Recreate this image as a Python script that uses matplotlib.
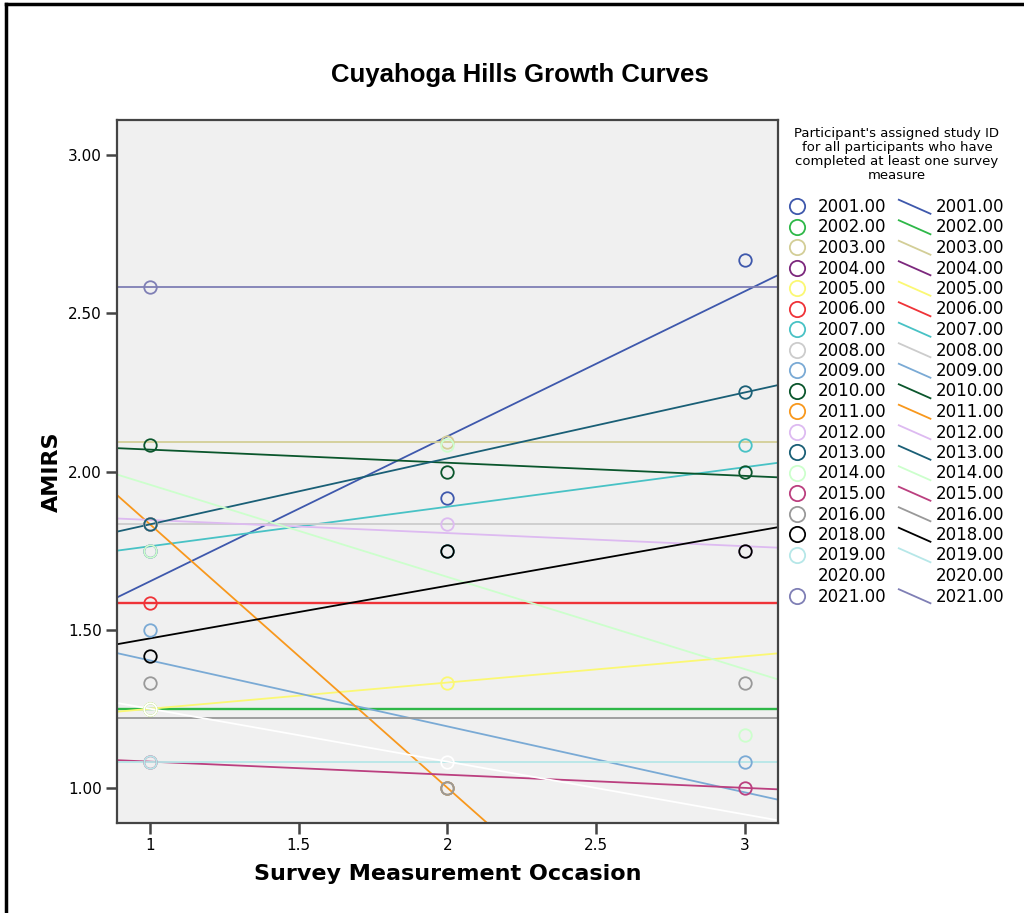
import numpy as np
import matplotlib
matplotlib.use("Agg")
import matplotlib.pyplot as plt
from matplotlib.lines import Line2D
from matplotlib.legend_handler import HandlerBase

## Data: participant IDs, survey occasion and AMIRS score per observation
ids = ["2001", "2002", "2003", "2004", "2005", "2006", "2007", "2008", "2009", "2010",
       "2011", "2012", "2013", "2014", "2015", "2016", "2018", "2019", "2020", "2021"]

occasions = {
    "2001": [1, 2, 3],
    "2002": [1],
    "2003": [2],
    "2004": [],
    "2005": [1, 2],
    "2006": [1],
    "2007": [1, 2, 3],
    "2008": [1],
    "2009": [1, 2, 3],
    "2010": [1, 2, 3],
    "2011": [1, 2],
    "2012": [1, 2, 3],
    "2013": [1, 3],
    "2014": [1, 2, 3],
    "2015": [1, 3],
    "2016": [1, 2, 3],
    "2018": [1, 2, 3],
    "2019": [1],
    "2020": [1, 2],
    "2021": [1],
}

amirs = {
    "2001": [1.75, 1.917, 2.667],
    "2002": [1.25],
    "2003": [2.092],
    "2004": [],
    "2005": [1.25, 1.333],
    "2006": [1.583],
    "2007": [1.833, 1.75, 2.083],
    "2008": [1.833],
    "2009": [1.50, 1.00, 1.083],
    "2010": [2.083, 2.00, 2.00],
    "2011": [1.833, 1.00],
    "2012": [1.833, 1.833, 1.75],
    "2013": [1.833, 2.25],
    "2014": [1.75, 2.083, 1.167],
    "2015": [1.083, 1.00],
    "2016": [1.333, 1.00, 1.333],
    "2018": [1.417, 1.75, 1.75],
    "2019": [1.083],
    "2020": [1.25, 1.083],
    "2021": [2.583],
}

colors = {
    "2001": "#3E58AC", "2002": "#2EB848", "2003": "#D3CE97", "2004": "#7C287D",
    "2005": "#FBF873", "2006": "#EF3338", "2007": "#48C2C5", "2008": "#CCCCCC",
    "2009": "#7AAAD5", "2010": "#0A562C", "2011": "#F8981D", "2012": "#DDBAF1",
    "2013": "#1A5F76", "2014": "#CCFFCC", "2015": "#BB3F7F", "2016": "#999999",
    "2018": "#000000", "2019": "#B6E7E8", "2020": "#FFFFFF", "2021": "#7F7FB5",
}

xlim = (0.889, 3.111)
ylim = (0.889, 3.111)


# legend line handles drawn slanted like the SPSS output
class SlantHandler(HandlerBase):
    def create_artists(self, legend, orig_handle, xdescent, ydescent,
                       width, height, fontsize, trans):
        ln = Line2D([-xdescent, -xdescent + width],
                    [-ydescent + height * 1.05, -ydescent - height * 0.15],
                    color=orig_handle.get_color(),
                    lw=orig_handle.get_linewidth(), transform=trans)
        return [ln]


#%% Figure
fig = plt.figure(figsize=(10.24, 9.13), dpi=100)
ax = fig.add_axes([117 / 1024, 1 - 823 / 913, 661 / 1024, 703 / 913])
ax.set_facecolor("#F0F0F0")

xs = np.array(xlim)
marker_handles = []
line_handles = []
for pid in ids:
    x = np.array(occasions[pid], dtype=float)
    y = np.array(amirs[pid], dtype=float)
    c = colors[pid]
    lw = 1.7 if pid in ("2002", "2006") else 1.3
    if len(x) > 0:
        # linear fit per participant (flat line if only one observation)
        if len(x) > 1:
            slope, icpt = np.polyfit(x, y, 1)
        else:
            slope, icpt = 0.0, y[0]
        ax.plot(xs, icpt + slope * xs, color=c, lw=lw, zorder=2)
        ax.plot(x, y, linestyle="none", marker="o", markersize=9,
                markerfacecolor="none", markeredgecolor=c, mew=1.3, zorder=3)
    marker_handles.append(Line2D([], [], linestyle="none", marker="o", markersize=11,
                                markerfacecolor="none", markeredgecolor=c, mew=1.3))
    line_handles.append(Line2D([], [], color=c, lw=1.3))

ax.set_xlim(*xlim)
ax.set_ylim(*ylim)
ax.set_xticks([1, 1.5, 2, 2.5, 3])
ax.set_xticklabels(["1", "1.5", "2", "2.5", "3"])
ax.set_yticks([1.0, 1.5, 2.0, 2.5, 3.0])
ax.set_yticklabels(["1.00", "1.50", "2.00", "2.50", "3.00"])
ax.tick_params(axis="both", direction="out", length=8, width=1.8, color="#444444",
               labelsize=11, pad=3)
for sp in ax.spines.values():
    sp.set_linewidth(1.6)
    sp.set_color("#444444")

ax.set_xlabel("Survey Measurement Occasion", fontsize=16, fontweight="bold", labelpad=8)
ax.set_ylabel("AMIRS", fontsize=16, fontweight="bold", labelpad=4)
fig.text(520 / 1024, 1 - 75 / 913, "Cuyahoga Hills Growth Curves", ha="center", va="center",
         fontsize=18.5, fontweight="bold", family="Liberation Sans")

# legend title as separate text so it sits like the original
fig.text(897 / 1024, 1 - 127 / 913,
         "Participant's assigned study ID\nfor all participants who have\n"
         "completed at least one survey\nmeasure",
         ha="center", va="top", multialignment="center", fontsize=9.5, linespacing=1.1)

labels = [p + ".00" for p in ids]
leg = fig.legend(marker_handles + line_handles, labels + labels, ncol=2,
                 loc="upper left", bbox_to_anchor=(781 / 1024, 1 - 198 / 913),
                 frameon=False, fontsize=12, handlelength=1.9, handletextpad=0.3,
                 columnspacing=0.75, labelspacing=0.15, borderpad=0, borderaxespad=0,
                 handler_map={h: SlantHandler() for h in line_handles})

# outer frame (left and top edges only)
fig.add_artist(Line2D([6 / 1024, 6 / 1024], [0, 1 - 4 / 913], color="black", lw=2.5,
                      transform=fig.transFigure))
fig.add_artist(Line2D([6 / 1024, 1], [1 - 4 / 913, 1 - 4 / 913], color="black", lw=2.5,
                      transform=fig.transFigure))

fig.savefig("out.png", dpi=100)
